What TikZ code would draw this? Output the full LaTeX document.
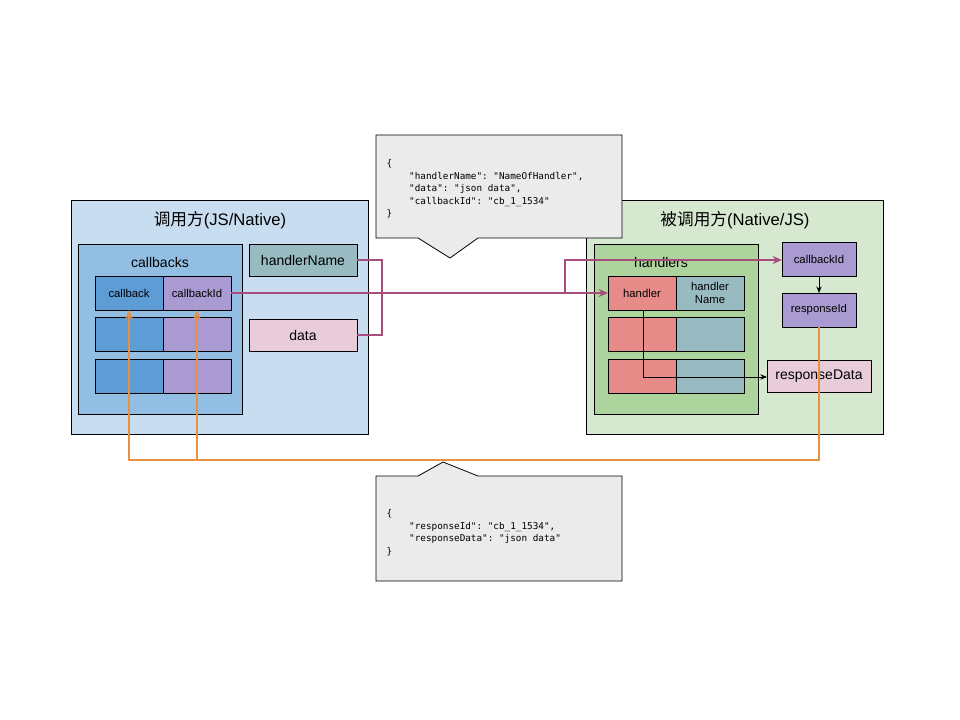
\documentclass[tikz,border=0pt]{standalone}
\usepackage{fontspec}
\setmainfont{Liberation Sans}
\setmonofont{DejaVu Sans Mono}
\newfontfamily\cjk{Noto Sans CJK SC}
\usetikzlibrary{arrows.meta}
\definecolor{outerL}{HTML}{C9DDF0}
\definecolor{cbs}{HTML}{93BEE3}
\definecolor{cb}{HTML}{5E9CD6}
\definecolor{pur}{HTML}{A99BD1}
\definecolor{teal}{HTML}{98BAC1}
\definecolor{pinkb}{HTML}{E8CCDA}
\definecolor{outerR}{HTML}{D6E8D0}
\definecolor{hds}{HTML}{AED49E}
\definecolor{red}{HTML}{E68B88}
\definecolor{grayc}{HTML}{EBEBEB}
\definecolor{plink}{HTML}{A64D7C}
\definecolor{olink}{HTML}{E99140}
\begin{document}
\begin{tikzpicture}[x=0.75pt,y=-0.75pt,
 bx/.style={draw=black,line width=0.6pt,inner sep=0pt,outer sep=0pt},
 pl/.style={draw=plink,line width=1.3pt},
 ol/.style={draw=olink,line width=1.3pt},
 tip/.style={-{Stealth[length=7pt,width=6pt]}},
 sm/.style={font=\fontsize{8.5}{10}\selectfont},
 md/.style={font=\fontsize{10.5}{12}\selectfont}]
\useasboundingbox (0,0) rectangle (960,720);
% outer boxes
\draw[bx,fill=outerL] (71,200) rectangle (368,434);
\node[font=\fontsize{12.5}{14}\selectfont] (tl) at (220,220) {{\cjk 调用方}(JS/Native)};
\draw[bx,fill=cbs] (78,244) rectangle (242,414);
\node[md] (cbl) at (160,262) {callbacks};
\node[bx,fill=cb,minimum width=51pt,minimum height=25.5pt,anchor=north west,sm] (cb1) at (95,276) {callback};
\node[bx,fill=pur,minimum width=51pt,minimum height=25.5pt,anchor=north west,sm] (cid1) at (163,276) {callbackId};
\node[bx,fill=cb,minimum width=51pt,minimum height=25.5pt,anchor=north west] (cb2) at (95,317) {};
\node[bx,fill=pur,minimum width=51pt,minimum height=25.5pt,anchor=north west] (cid2) at (163,317) {};
\node[bx,fill=cb,minimum width=51pt,minimum height=25.5pt,anchor=north west] (cb3) at (95,359) {};
\node[bx,fill=pur,minimum width=51pt,minimum height=25.5pt,anchor=north west] (cid3) at (163,359) {};
\node[bx,fill=teal,minimum width=81pt,minimum height=24pt,anchor=north west,md] (hn) at (249,244) {handlerName};
\node[bx,fill=pinkb,minimum width=81pt,minimum height=24pt,anchor=north west,md] (dt) at (249,319) {data};
% right
\draw[bx,fill=outerR] (586,200) rectangle (883,434);
\node[font=\fontsize{12.5}{14}\selectfont] (tr) at (735,220) {{\cjk 被调用方}(Native/JS)};
\draw[bx,fill=hds] (594,244) rectangle (758,414);
\node[md] (hdl) at (661,262) {handlers};
\node[bx,fill=red,minimum width=51pt,minimum height=25.5pt,anchor=north west,sm] (h1) at (608,276) {handler};
\node[bx,fill=teal,minimum width=51pt,minimum height=25.5pt,anchor=north west,sm,align=center] (hn1) at (676,276) {handler\\Name};
\node[bx,fill=red,minimum width=51pt,minimum height=25.5pt,anchor=north west] (h2) at (608,317) {};
\node[bx,fill=teal,minimum width=51pt,minimum height=25.5pt,anchor=north west] (hn2) at (676,317) {};
\node[bx,fill=red,minimum width=51pt,minimum height=25.5pt,anchor=north west] (h3) at (608,359) {};
\node[bx,fill=teal,minimum width=51pt,minimum height=25.5pt,anchor=north west] (hn3) at (676,359) {};
\node[bx,fill=pur,minimum width=55.5pt,minimum height=25.5pt,anchor=north west,sm] (rcid) at (782,242) {callbackId};
\node[bx,fill=pur,minimum width=55.5pt,minimum height=25.5pt,anchor=north west,sm] (rid) at (782,293) {responseId};
\node[bx,fill=pinkb,minimum width=78pt,minimum height=24pt,anchor=north west,md] (rd) at (767,360) {responseData};
% callouts
\draw[bx,fill=grayc] (376,135) -- (622,135) -- (622,238) -- (478,238) -- (450,258) -- (418,238) -- (376,238) -- cycle;
\node[anchor=north west,font=\ttfamily\fontsize{7}{9.3}\selectfont,align=left] (j1) at (382,155) {\{\\\ \ \ \ "handlerName": "NameOfHandler",\\\ \ \ \ "data": "json data",\\\ \ \ \ "callbackId": "cb\_1\_1534"\\\}};
\draw[bx,fill=grayc] (376,476) -- (418,476) -- (443,462) -- (478,476) -- (622,476) -- (622,581) -- (376,581) -- cycle;
\node[anchor=north west,font=\ttfamily\fontsize{7}{9.3}\selectfont,align=left] (j2) at (382,505) {\{\\\ \ \ \ "responseId": "cb\_1\_1534",\\\ \ \ \ "responseData": "json data"\\\}};
% purple links
\coordinate (m1) at (382,260);
\coordinate (m2) at (382,335);
\coordinate (m3) at (382,293);
\draw[pl] (hn.east|-m1) -- (m1) -- (m2) -- (dt.east|-m2);
\draw[pl,tip] (m3) -- (h1.west);
\draw[pl,tip] (cid1.east) -- (565,293) -- (565,260) -- (rcid.west|-0,260);
% black links
\draw[tip,line width=0.6pt,-{Stealth[length=5pt,width=4pt]}] (rcid.south) -- (rid.north);
\draw[line width=0.6pt,-{Stealth[length=5pt,width=4pt]}] (643,310) -- (643,377) -- (rd.west|-0,377);
% orange links
\draw[ol,tip] (rid.south) -- (819,460) -- (129,460) -- (cb1.south-|129,0);
\draw[ol,tip] (197,460) -- (cid1.south-|197,0);
\end{tikzpicture}
\end{document}
